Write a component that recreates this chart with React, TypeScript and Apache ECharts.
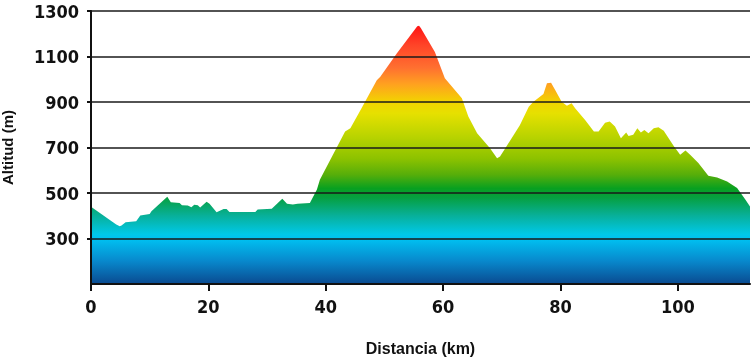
import React, { useEffect, useRef } from "react";
import * as echarts from "echarts";

const distanceKm = [
  0, 4.3, 4.9, 5.2, 5.9, 7.7, 8.4, 10.0, 10.3, 13.0, 13.6, 15.1, 15.5, 16.5, 17.1, 17.6, 18.2, 18.6,
  19.7, 20.2, 21.4, 22.6, 23.1, 23.6, 28.0, 28.4, 30.8, 32.6, 33.4, 34.4, 35.2, 37.3, 38.5, 39.0,
  43.3, 44.2, 46.1, 48.7, 49.3, 52.1, 55.6, 55.9, 56.2, 58.6, 60.3, 63.2, 64.3, 65.8, 68.0, 69.2,
  69.7, 70.6, 73.1, 74.6, 75.4, 77.1, 77.7, 78.4, 79.1, 80.2, 81.1, 81.9, 82.5, 84.2, 85.7, 86.5,
  87.6, 88.4, 89.3, 90.3, 91.2, 91.6, 92.4, 93.1, 93.7, 94.3, 95.0, 95.9, 96.7, 97.6, 99.3, 100.4,
  101.3, 102.1, 103.5, 105.2, 106.7, 108.4, 110.1, 111.5, 112.3,
];

const altitudeM = [
  440, 361, 354, 357, 371, 376, 401, 408, 420, 483, 459, 456, 446, 445, 437, 448, 446, 436,
  461, 453, 415, 430, 430, 417, 417, 427, 431, 475, 453, 449, 453, 456, 515, 558,
  770, 785, 872, 996, 1011, 1113, 1233, 1235, 1225, 1120, 1004, 916, 836, 763, 697, 653,
  660, 697, 799, 879, 901, 935, 982, 985, 953, 901, 883, 894, 872, 821, 770, 770,
  809, 814, 792, 741, 766, 751, 756, 785, 766, 777, 763, 785, 789, 774, 707, 668,
  687, 668, 632, 576, 568, 551, 522, 471, 441,
];

const yTicks = { min: 100, max: 1300, interval: 200 };
const xTicks = { min: 0, max: 112.3, interval: 20 };

// altitude -> colour of the elevation gradient
const gradientAltitudes = [1235, 1150, 1050, 980, 900, 850, 750, 650, 580, 520, 480, 400, 320, 300, 200, 100];
const gradientColors = [
  "#ff1414", "#ff4428", "#ff7030", "#ffa020", "#f2d400", "#e6e000", "#bad400", "#8cc200",
  "#56ae0a", "#08a020", "#06a040", "#08b09a", "#00c8e8", "#00c2f2", "#0888cc", "#0a4a90",
];

export default function App() {
  const ref = useRef<HTMLDivElement>(null);

  useEffect(() => {
    if (!ref.current) return;
    const chart = echarts.init(ref.current, undefined, { renderer: "svg" });
    const maxAlt = Math.max(...altitudeM);
    const span = maxAlt - yTicks.min;
    const stops = gradientAltitudes.map((v, i) => ({
      offset: Math.min(1, Math.max(0, (maxAlt - v) / span)),
      color: gradientColors[i],
    }));
    const labelFont = "'DejaVu Sans Condensed', 'Liberation Sans', sans-serif";
    chart.setOption({
      animation: false,
      grid: { left: 91, right: 1, top: 11, bottom: 76, outerBoundsMode: "none", containLabel: false },
      xAxis: {
        type: "value",
        min: xTicks.min,
        max: xTicks.max,
        interval: xTicks.interval,
        z: 3,
        name: "Distancia (km)",
        nameLocation: "middle",
        nameGap: 56,
        nameTextStyle: {
          fontFamily: "'Liberation Sans', Arial, sans-serif",
          fontWeight: "bold",
          fontSize: 16,
          color: "#111",
        },
        axisLine: { show: true, lineStyle: { color: "#111", width: 2 } },
        axisTick: { show: true, length: 7, lineStyle: { color: "#111", width: 2 } },
        axisLabel: {
          showMaxLabel: false,
          margin: 13,
          fontFamily: labelFont,
          fontWeight: "bold",
          fontSize: 18,
          color: "#111",
          formatter: (v: number) => String(v),
        },
        splitLine: { show: false },
      },
      yAxis: {
        type: "value",
        min: yTicks.min,
        max: yTicks.max,
        interval: yTicks.interval,
        z: 3,
        name: "Altitud (m)",
        nameLocation: "middle",
        nameGap: 76,
        nameTextStyle: {
          fontFamily: "'Liberation Sans', Arial, sans-serif",
          fontWeight: "bold",
          fontSize: 15,
          color: "#111",
        },
        axisLine: { show: true, lineStyle: { color: "#111", width: 2 } },
        axisTick: { show: true, length: 4, lineStyle: { color: "#111", width: 2 } },
        axisLabel: {
          showMinLabel: false,
          margin: 12,
          fontFamily: labelFont,
          fontWeight: "bold",
          fontSize: 18,
          color: "#111",
          formatter: (v: number) => String(v),
        },
        splitLine: { show: true, lineStyle: { color: "#1a1a1a", width: 1.5 } },
      },
      series: [
        {
          type: "line",
          data: distanceKm.map((d, i) => [d, altitudeM[i]]),
          symbol: "none",
          smooth: false,
          lineStyle: { width: 0, opacity: 0 },
          areaStyle: {
            opacity: 1,
            color: new echarts.graphic.LinearGradient(0, 0, 0, 1, stops),
          },
          z: 2,
        },
      ],
    });
    return () => chart.dispose();
  }, []);

  return (
    <div
      ref={ref}
      style={{ position: "fixed", left: 0, top: 0, width: 751, height: 360 }}
    />
  );
}
